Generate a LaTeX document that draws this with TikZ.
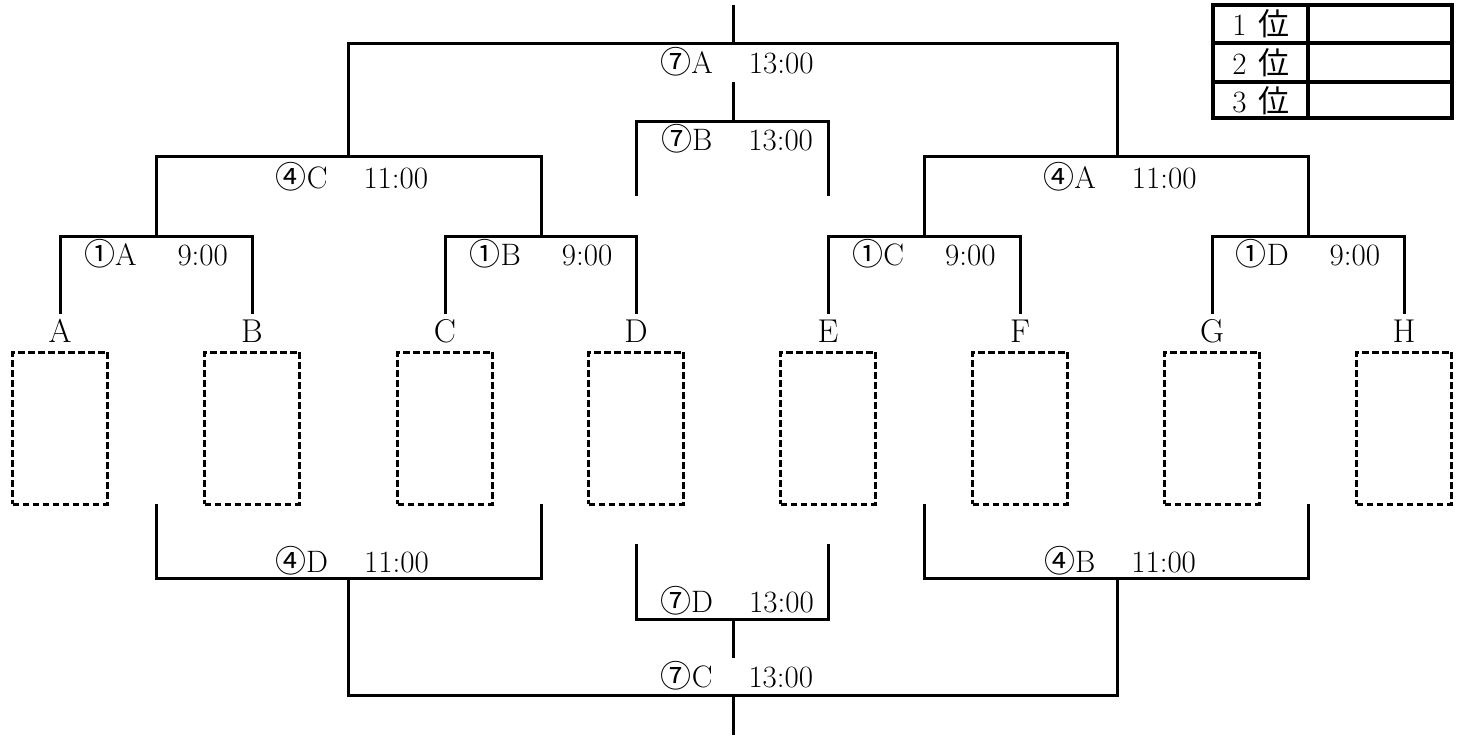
\documentclass[tikz,border=0pt]{standalone}
\usepackage{fontspec}
\newfontfamily\jp{Noto Sans CJK JP}
\begin{document}
\begin{tikzpicture}[x=0.5pt,y=-0.5pt,
  br/.style={line width=1.5pt},
  tbl/.style={line width=1.6pt},
  lab/.style={anchor=base,inner sep=0pt,font=\fontsize{15.5}{18}\selectfont},
  leaf/.style={anchor=base,inner sep=0pt,font=\fontsize{16.5}{19}\selectfont},
  slot/.style={draw,line width=1.5pt,dash pattern=on 3.4pt off 1.6pt,
    minimum width=47.5pt,minimum height=76pt,inner sep=0pt}]
\useasboundingbox (0,0) rectangle (1463,735);
\newcommand\cn[1]{{\jp #1}}
% leaves
\foreach \n/\x in {A/60,B/252,C/445,D/636,E/828,F/1020,G/1212,H/1404}{
  \node[leaf] (L\n) at (\x,342) {\n};
  \node[slot] (S\n) at (\x,428) {};
  \coordinate (t\n) at (\x,314);
}
% top coordinates
\coordinate (q1) at (156,236); \coordinate (q2) at (541,236);
\coordinate (q3) at (924,236); \coordinate (q4) at (1308,236);
\coordinate (s1) at (348,156); \coordinate (s2) at (1117,156);
\coordinate (f1) at (733,43);  \coordinate (top) at (733,5);
\coordinate (b7l) at (636,196); \coordinate (b7r) at (828,196);
\coordinate (b7m) at (733,121); \coordinate (b7t) at (733,82);
% top brackets
\draw[br] (tA) |- (q1) -| (tB);
\draw[br] (tC) |- (q2) -| (tD);
\draw[br] (tE) |- (q3) -| (tF);
\draw[br] (tG) |- (q4) -| (tH);
\draw[br] (q1) |- (s1) -| (q2);
\draw[br] (q3) |- (s2) -| (q4);
\draw[br] (s1) |- (f1) -| (s2);
\draw[br] (f1) -- (top);
\draw[br] (b7l) |- (b7m) -| (b7r);
\draw[br] (b7m) -- (b7t);
% bottom coordinates
\coordinate (u1) at (156,504); \coordinate (u2) at (541,504);
\coordinate (u3) at (924,504); \coordinate (u4) at (1308,504);
\coordinate (v1) at (348,578); \coordinate (v2) at (1117,578);
\coordinate (w) at (733,695);  \coordinate (bot) at (733,735);
\coordinate (d7l) at (636,544); \coordinate (d7r) at (828,544);
\coordinate (d7m) at (733,619); \coordinate (d7b) at (733,658);
\draw[br] (u1) |- (v1) -| (u2);
\draw[br] (u3) |- (v2) -| (u4);
\draw[br] (v1) |- (w) -| (v2);
\draw[br] (w) -- (bot);
\draw[br] (d7l) |- (d7m) -| (d7r);
\draw[br] (d7m) -- (d7b);
% labels
\node[lab] (m1A) at (156,265) {\cn{①}A\hspace{20.5pt}9:00};
\node[lab] (m1B) at (541,265) {\cn{①}B\hspace{20.5pt}9:00};
\node[lab] (m1C) at (924,265) {\cn{①}C\hspace{20.5pt}9:00};
\node[lab] (m1D) at (1308,265) {\cn{①}D\hspace{20.5pt}9:00};
\node[lab] (m4C) at (352,188) {\cn{④}C\hspace{18pt}11:00};
\node[lab] (m4A) at (1120,188) {\cn{④}A\hspace{18pt}11:00};
\node[lab] (m7A) at (737,73) {\cn{⑦}A\hspace{18pt}13:00};
\node[lab] (m7B) at (737,150) {\cn{⑦}B\hspace{18pt}13:00};
\node[lab] (m4D) at (352,572) {\cn{④}D\hspace{18pt}11:00};
\node[lab] (m4B) at (1120,572) {\cn{④}B\hspace{18pt}11:00};
\node[lab] (m7D) at (737,612) {\cn{⑦}D\hspace{18pt}13:00};
\node[lab] (m7C) at (737,687) {\cn{⑦}C\hspace{18pt}13:00};
% ranking table
\draw[tbl] (1213,5) rectangle (1452,118);
\draw[tbl] (1213,43) -- (1452,43);
\draw[tbl] (1213,82) -- (1452,82);
\draw[tbl] (1308,5) -- (1308,118);
\node[lab] (r1) at (1261,35) {1\hspace{6pt}\cn{位}};
\node[lab] (r2) at (1261,74) {2\hspace{6pt}\cn{位}};
\node[lab] (r3) at (1261,112) {3\hspace{6pt}\cn{位}};
\end{tikzpicture}
\end{document}
